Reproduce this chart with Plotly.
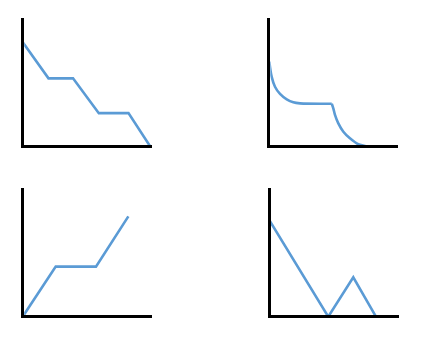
import plotly.graph_objects as go

# ---- data (arbitrary units) ----
p1_x = [0, 2.0, 3.9, 5.9, 8.2, 9.9]
p1_y = [8.1, 5.3, 5.3, 2.6, 2.6, 0]

p2a_x = [0.04, 0.22, 0.48, 0.87, 1.39, 1.9, 2.42, 4.88]
p2a_y = [6.6, 5.43, 4.65, 4.09, 3.67, 3.44, 3.36, 3.33]
p2b_x = [4.88, 5.0, 5.13, 5.39, 5.78, 6.29, 6.94, 7.71]
p2b_y = [3.33, 2.98, 2.47, 1.81, 1.16, 0.65, 0.19, 0.0]

p3_x = [0, 2.56, 5.68, 8.19]
p3_y = [0, 3.88, 3.88, 7.78]

p4_x = [0.05, 4.57, 6.51, 8.27]
p4_y = [7.4, 0, 3.05, 0]

# ---- layout geometry (pixels) ----
W, H = 431, 346
S = 12.9  # px per unit
LW = 3
panels = [
    # axis-x center, axis-y center, x end, y top
    (22.7, 146.7, 151.7, 18.3),
    (268.8, 146.7, 398.0, 18.3),
    (22.7, 316.7, 152.0, 187.5),
    (269.3, 316.7, 398.5, 187.5),
]
BLUE = "#5B9BD5"

fig = go.Figure()
traces = [
    (1, p1_x, p1_y, "linear"),
    (2, p2a_x, p2a_y, "spline"),
    (2, p2b_x, p2b_y, "spline"),
    (3, p3_x, p3_y, "linear"),
    (4, p4_x, p4_y, "linear"),
]
for idx, xs, ys, shape in traces:
    suf = "" if idx == 1 else str(idx)
    fig.add_trace(go.Scatter(
        x=xs, y=ys, mode="lines",
        line=dict(color=BLUE, width=2.6, shape=shape, smoothing=0.8),
        xaxis="x" + suf, yaxis="y" + suf, showlegend=False,
        hoverinfo="skip",
    ))

layout = dict(
    width=W, height=H, margin=dict(l=0, r=0, t=0, b=0),
    paper_bgcolor="white", plot_bgcolor="white", showlegend=False,
)
for i, (ax, ay, xe, yt) in enumerate(panels, start=1):
    suf = "" if i == 1 else str(i)
    left = ax + LW / 2
    bottom = ay - LW / 2
    xd = [left / W, xe / W]
    yd = [1 - bottom / H, 1 - yt / H]
    xr = [(left - ax) / S, (xe - ax) / S]
    yr = [(ay - bottom) / S, (ay - yt) / S]
    common = dict(showline=True, linecolor="black", linewidth=LW,
                  showgrid=False, zeroline=False, showticklabels=False,
                  ticks="", fixedrange=True)
    layout["xaxis" + suf] = dict(domain=xd, range=xr,
                                 anchor="y" + suf, **common)
    layout["yaxis" + suf] = dict(domain=yd, range=yr,
                                 anchor="x" + suf, **common)
fig.update_layout(**layout)
fig.write_html("out.html")
